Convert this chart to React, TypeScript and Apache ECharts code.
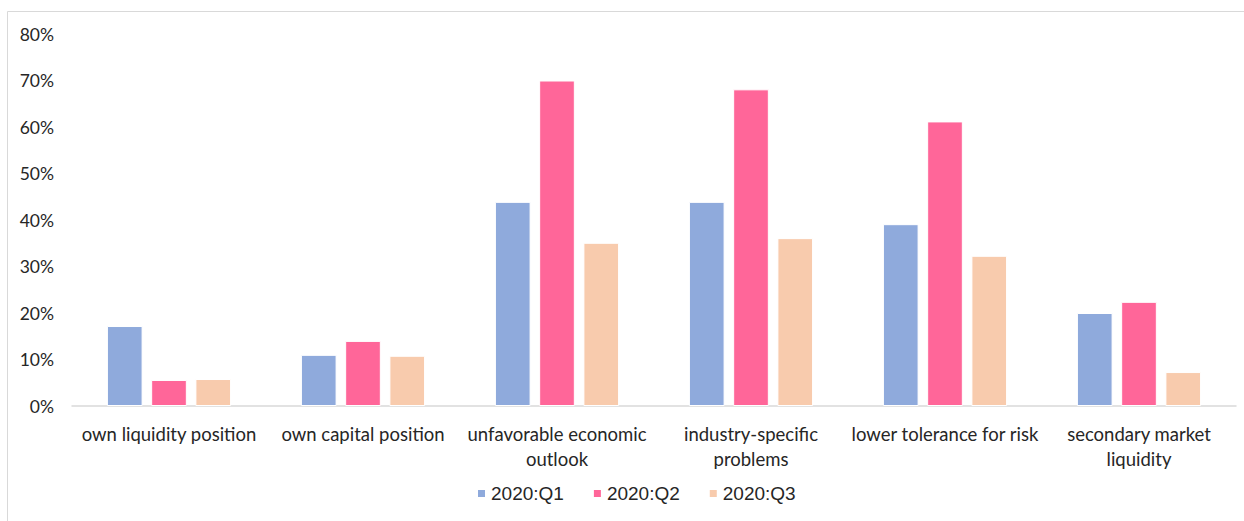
import React, { useEffect, useRef } from "react";
import * as echarts from "echarts";

const categories = [
  "own liquidity position",
  "own capital position",
  "unfavorable economic outlook",
  "industry-specific problems",
  "lower tolerance for risk",
  "secondary market liquidity",
];
const seriesNames = ["2020:Q1", "2020:Q2", "2020:Q3"];
const q1 = [0.172, 0.11, 0.439, 0.439, 0.391, 0.2];
const q2 = [0.056, 0.14, 0.7, 0.681, 0.612, 0.224];
const q3 = [0.058, 0.108, 0.351, 0.361, 0.323, 0.073];
const colors = ["#8FAADC", "#FF6699", "#F8CBAD"];

function wrap(s: string): string {
  if (s.length <= 24) return s;
  const i = s.lastIndexOf(" ");
  return s.slice(0, i) + "\n" + s.slice(i + 1);
}

export default function App() {
  const ref = useRef<HTMLDivElement>(null);
  useEffect(() => {
    document.body.style.margin = "0";
    const chart = echarts.init(ref.current!, null, { renderer: "svg" });
    const data = [q1, q2, q3];
    chart.setOption({
      animation: false,
      backgroundColor: "#ffffff",
      graphic: [
        {
          type: "rect",
          shape: { x: 7.5, y: 11.5, width: 1300, height: 600 },
          style: { fill: "none", stroke: "#D9D9D9", lineWidth: 1 },
          silent: true,
        },
      ],
      grid: { left: 72, right: 8, top: 34, bottom: 115, containLabel: false },
      legend: {
        data: seriesNames,
        bottom: 13,
        left: 471,
        itemWidth: 9,
        itemHeight: 9,
        itemGap: 28,
        icon: "rect",
        textStyle: {
          fontFamily: "Liberation Sans, Arial, sans-serif",
          fontSize: 19,
          color: "#262626",
        },
      },
      xAxis: {
        type: "category",
        data: categories,
        axisLine: { lineStyle: { color: "#D9D9D9", width: 1.5 } },
        axisTick: { show: false },
        axisLabel: {
          formatter: (v: string) => wrap(v),
          fontFamily: "Lato, sans-serif",
          fontSize: 18.5,
          color: "#262626",
          margin: 15,
          lineHeight: 25,
          interval: 0,
        },
      },
      yAxis: {
        type: "value",
        min: 0,
        max: 0.8,
        interval: 0.1,
        splitLine: { show: false },
        axisLine: { show: false },
        axisTick: { show: false },
        axisLabel: {
          formatter: (v: number) => Math.round(v * 100) + "%",
          fontFamily: "Lato, sans-serif",
          fontSize: 17.5,
          color: "#262626",
          margin: 18,
        },
      },
      series: seriesNames.map((name, i) => ({
        name,
        type: "bar",
        data: data[i],
        barGap: "24%",
        barCategoryGap: "36%",
        itemStyle: { color: colors[i], borderColor: "#ffffff", borderWidth: 1 },
      })),
    });
    return () => chart.dispose();
  }, []);
  return <div ref={ref} style={{ width: 1244, height: 521 }} />;
}
